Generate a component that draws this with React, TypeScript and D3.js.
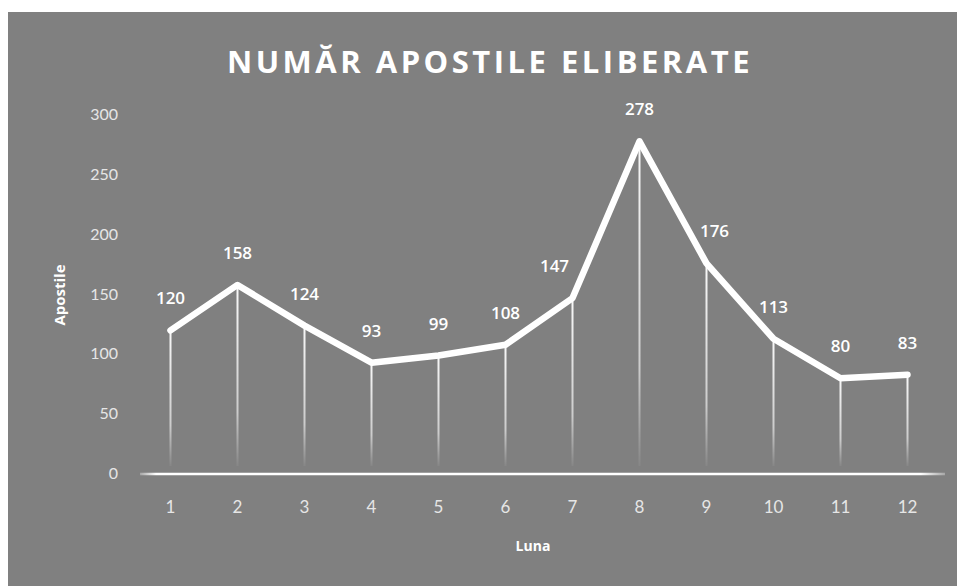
import * as d3 from 'd3';

const months = ['1', '2', '3', '4', '5', '6', '7', '8', '9', '10', '11', '12'];
const apostile = [120, 158, 124, 93, 99, 108, 147, 278, 176, 113, 80, 83];
const yTicks = [0, 50, 100, 150, 200, 250, 300];

const W = 957;
const H = 586;
const margin = { top: 115, right: 15, bottom: 112, left: 137 };

// a few data labels were nudged sideways in the original so they clear the line
const labelNudge: Record<string, number> = { '7': -18, '9': 8 };

function App() {
  const x = d3
    .scaleBand<string>()
    .domain(months)
    .range([margin.left, margin.left + 804]);
  const y = d3
    .scaleLinear()
    .domain([0, 300])
    .range([H - margin.bottom, margin.top]);

  const cx = (m: string) => (x(m) ?? 0) + x.bandwidth() / 2;
  const pts = months.map((m, i) => ({ m, v: apostile[i] }));

  const line = d3
    .line<{ m: string; v: number }>()
    .x((d) => cx(d.m))
    .y((d) => y(d.v));

  const y0 = y(0);

  return (
    <svg
      width={W}
      height={H}
      style={{ position: 'fixed', left: 0, top: 0, background: '#fff' }}
    >
      <defs>
        <linearGradient id="drop" x1="0" y1="0" x2="0" y2="1">
          <stop offset="0" stopColor="#fff" stopOpacity="0.95" />
          <stop offset="0.7" stopColor="#fff" stopOpacity="0.6" />
          <stop offset="1" stopColor="#fff" stopOpacity="0.05" />
        </linearGradient>
        <linearGradient id="axisGrad" x1="0" y1="0" x2="1" y2="0">
          <stop offset="0" stopColor="#fff" stopOpacity="0.3" />
          <stop offset="0.02" stopColor="#fff" stopOpacity="1" />
          <stop offset="0.97" stopColor="#fff" stopOpacity="1" />
          <stop offset="1" stopColor="#fff" stopOpacity="0.3" />
        </linearGradient>
      </defs>
      <rect x={8} y={12} width={W - 8} height={H - 12} fill="#808080" />

      <text
        x={490}
        y={73}
        textAnchor="middle"
        fill="#fff"
        fontFamily="Open Sans"
        fontWeight="bold"
        fontSize={31}
        letterSpacing={3.5}
      >
        NUMĂR APOSTILE ELIBERATE
      </text>

      {/* y ticks */}
      {yTicks.map((t) => (
        <text
          key={t}
          x={118}
          y={y(t) + 5}
          textAnchor="end"
          fill="#e6e6e6"
          fontFamily="Lato"
          fontSize={16}
        >
          {t}
        </text>
      ))}

      {/* drop lines */}
      {pts.map((d) => (
        <rect
          key={d.m}
          x={cx(d.m) - 1}
          y={y(d.v)}
          width={2}
          height={y0 - 8 - y(d.v)}
          fill="url(#drop)"
        />
      ))}

      {/* x axis */}
      <rect
        x={140}
        y={y0 - 1.25}
        width={805}
        height={2.5}
        fill="url(#axisGrad)"
      />

      {months.map((m) => (
        <text
          key={m}
          x={cx(m)}
          y={513}
          textAnchor="middle"
          fill="#e6e6e6"
          fontFamily="Lato"
          fontSize={17}
        >
          {m}
        </text>
      ))}

      <path
        d={line(pts) ?? ''}
        fill="none"
        stroke="#fff"
        strokeWidth={6.5}
        strokeLinejoin="round"
        strokeLinecap="round"
      />

      {pts.map((d) => (
        <text
          key={d.m}
          x={cx(d.m) + (labelNudge[d.m] ?? 0)}
          y={y(d.v) - 26}
          textAnchor="middle"
          fill="#fff"
          fontFamily="Open Sans"
          fontWeight="600"
          fontSize={17}
        >
          {d.v}
        </text>
      ))}

      <text
        x={533}
        y={551}
        textAnchor="middle"
        fill="#fff"
        fontFamily="Open Sans"
        fontWeight="bold"
        fontSize={14}
      >
        Luna
      </text>
      <text
        transform={`translate(65, ${295}) rotate(-90)`}
        textAnchor="middle"
        fill="#fff"
        fontFamily="Open Sans"
        fontWeight="bold"
        fontSize={15}
      >
        Apostile
      </text>
    </svg>
  );
}

export default App;
